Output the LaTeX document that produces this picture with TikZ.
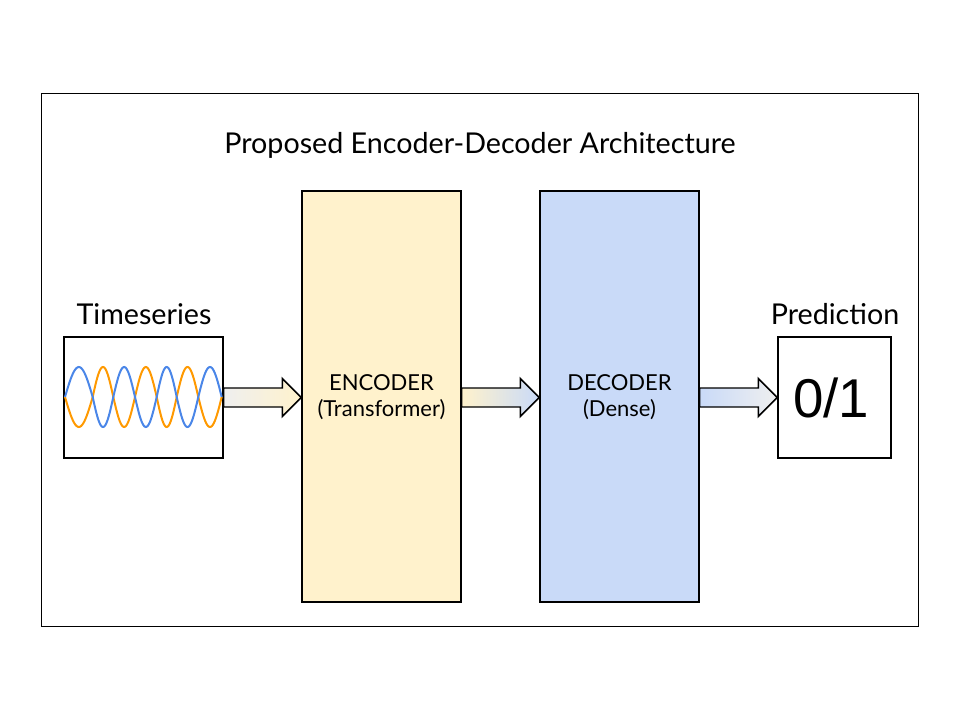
\documentclass[tikz,border=0pt]{standalone}
\usepackage{fontspec}
\setmainfont{Lato}
\newfontfamily\arialf{Liberation Sans}
\usetikzlibrary{calc}
\definecolor{encfill}{HTML}{FFF2CC}
\definecolor{decfill}{HTML}{C9DAF8}
\definecolor{arrgray}{HTML}{EFEFEF}
\definecolor{waveblue}{HTML}{4A86E8}
\definecolor{waveorange}{HTML}{FF9900}
\tikzset{
  box/.style={draw=black, line width=1.1pt, inner sep=0pt, rectangle},
  lbl/.style={inner sep=0pt, font=\fontsize{21.5}{25}\selectfont},
  blocklbl/.style={inner sep=0pt, align=center, font=\fontsize{16.5}{19.5}\selectfont},
  wave/.style={line width=1.5pt},
}
\newcommand{\blockarrow}[4]{%
  \draw[line width=1.1pt, line join=miter, left color=#3, right color=#4]
    ($(#1)+(0,-9.5)$) -- ($(#2)+(-19,-9.5)$) -- ($(#2)+(-19,-19)$) -- (#2)
    -- ($(#2)+(-19,19)$) -- ($(#2)+(-19,9.5)$) -- ($(#1)+(0,9.5)$) -- cycle;
}
\begin{document}
\begin{tikzpicture}[x=0.75pt,y=-0.75pt]
\useasboundingbox (0,0) rectangle (960,720);
% frame
\node[draw=black, line width=0.75pt, minimum width={877*0.75pt}, minimum height={532*0.75pt}, inner sep=0pt] (frame) at (479.5,360) {};
% title
\node[lbl] (title) at (480,145) {Proposed Encoder-Decoder Architecture};
% boxes
\node[box, minimum width={159*0.75pt}, minimum height={121*0.75pt}] (ts) at (143.5,397.5) {};
\node[box, fill=encfill, minimum width={159*0.75pt}, minimum height={411*0.75pt}] (enc) at (381.5,396.5) {};
\node[box, fill=decfill, minimum width={159*0.75pt}, minimum height={411*0.75pt}] (dec) at (619.5,396.5) {};
\node[box, minimum width={113*0.75pt}, minimum height={121*0.75pt}] (pred) at (834.5,397.5) {};
% labels
\node[lbl] (tslbl) at (144,314) {Timeseries};
\node[lbl] (predlbl) at (835,314) {Prediction};
\node[blocklbl] (enctxt) at (381.5,397) {ENCODER\\(Transformer)};
\node[blocklbl] (dectxt) at (619.5,397) {DECODER\\(Dense)};
\node[inner sep=0pt, font=\arialf\fontsize{41}{41}\selectfont] (out) at (831,398) {0/1};
% waves
\foreach \a/\b/\s in {65/92.7/1, 92.7/113.3/-1, 113.3/135/1, 135/156.7/-1, 156.7/176.7/1, 176.7/198.3/-1, 198.3/221.7/1}{
  \draw[wave, waveorange] plot[domain=0:180, samples=25, smooth] ({\a+(\b-\a)*\x/180},{397+\s*30*sin(\x)});
}
\foreach \a/\b/\s in {65/92.7/1, 92.7/113.3/-1, 113.3/135/1, 135/156.7/-1, 156.7/176.7/1, 176.7/198.3/-1, 198.3/221.7/1}{
  \draw[wave, waveblue] plot[domain=0:180, samples=25, smooth] ({\a+(\b-\a)*\x/180},{397-\s*30*sin(\x)});
}
% arrows
\coordinate (a1s) at (ts.east);
\coordinate (a1e) at (ts.east -| enc.west);
\coordinate (a2s) at (ts.east -| enc.east);
\coordinate (a2e) at (ts.east -| dec.west);
\coordinate (a3s) at (ts.east -| dec.east);
\coordinate (a3e) at (pred.west);
\blockarrow{a1s}{a1e}{arrgray}{encfill}
\blockarrow{a2s}{a2e}{encfill}{decfill}
\blockarrow{a3s}{a3e}{decfill}{arrgray}
\end{tikzpicture}
\end{document}
